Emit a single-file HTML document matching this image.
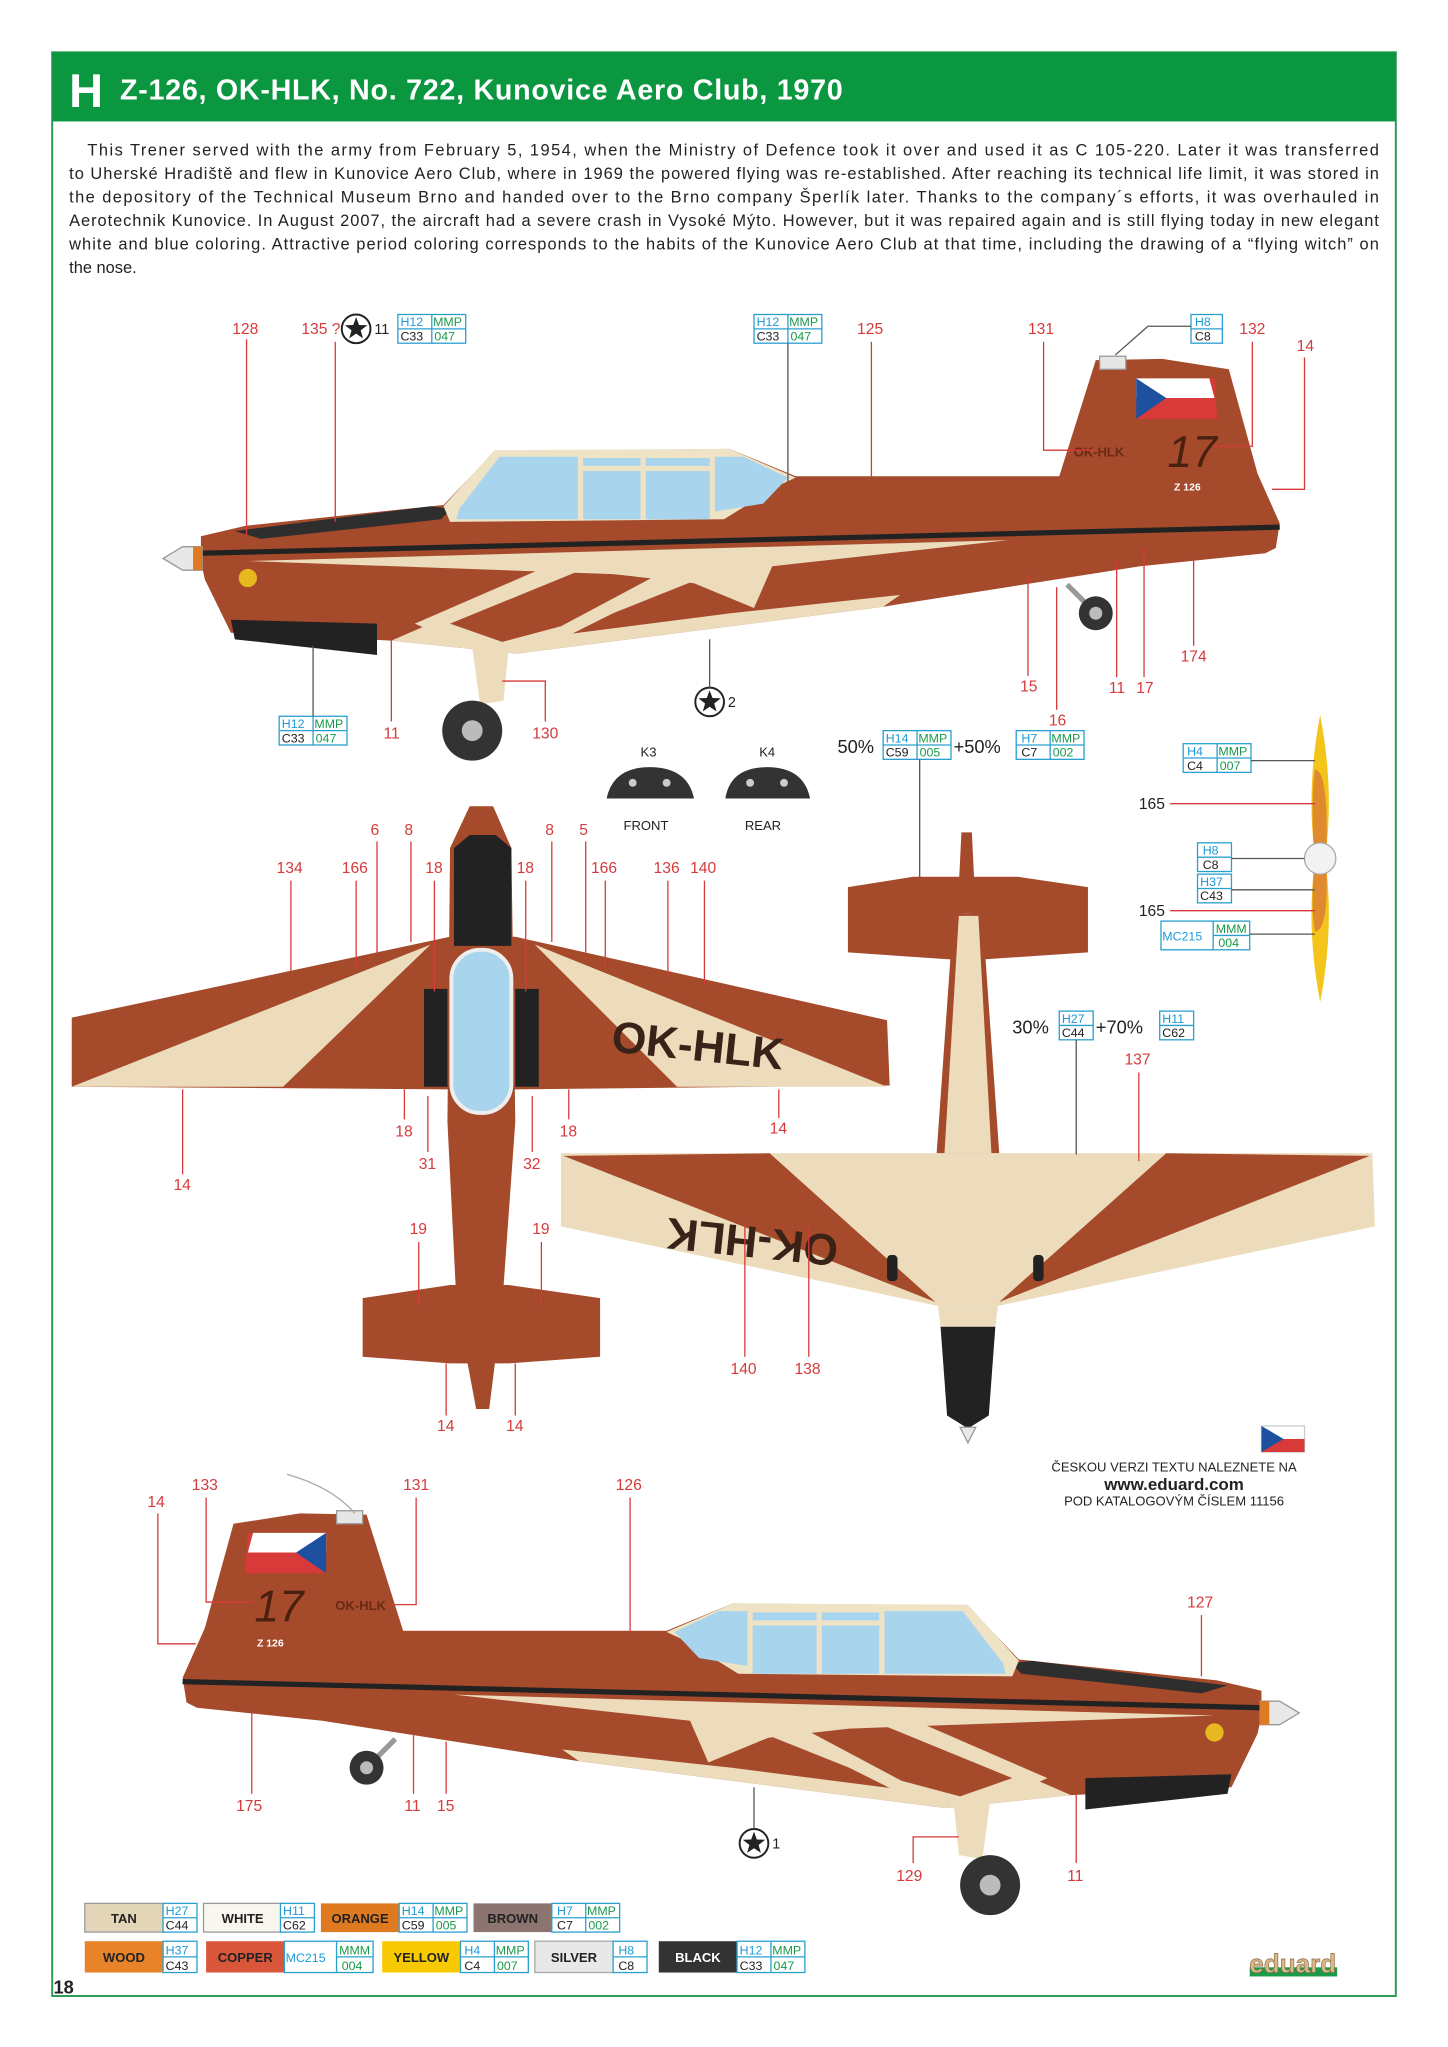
<!DOCTYPE html>
<html><head><meta charset="utf-8"><style>
html,body{margin:0;padding:0;background:#fff;}
svg{display:block;}
text{font-family:"Liberation Sans",sans-serif;}
.r{fill:#d63a3a;font-size:12px;}
.l{stroke:#d63a3a;stroke-width:1;fill:none;}
.p{font-size:12.6px;fill:#222;font-family:"Liberation Sans Narrow","Liberation Sans",sans-serif;}
.bx{fill:#fff;stroke:#29a0d0;stroke-width:1;}
.bt{font-size:9.5px;fill:#1c9ad6;}
.gt{font-size:9.5px;fill:#1a9a4a;}
.kt{font-size:9.5px;fill:#222;}
</style></head><body>
<svg width="1448" height="2047" viewBox="0 0 1110 1569" xmlns="http://www.w3.org/2000/svg">
<defs>
<g id="rnd"><circle r="11" fill="#fff" stroke="#222" stroke-width="1.5"/><polygon points="0,-9 2.2,-3 8.6,-2.8 3.5,1.2 5.3,7.3 0,3.7 -5.3,7.3 -3.5,1.2 -8.6,-2.8 -2.2,-3" fill="#222"/></g>
<g id="side">
<polygon points="154,411 188,403 340,387 379,346 559,344 610,365 812,365 840,276 891,275 942,283 964,363 981,401 978,420 970,424 874,434 677,465 396,501 300,491 177,485 157,444 154,430" fill="#a54a2b"/>
<polygon points="300,491 396,501 677,465 690,456 560,470 420,488 330,478" fill="#ecdcbc"/>
<polygon points="318,478 440,425 520,432 545,440 470,470 420,495 360,497" fill="#ecdcbc"/>
<polygon points="345,478 450,435 505,440 430,480 385,492" fill="#a54a2b"/>
<polygon points="190,430 773,414 592,434 578,466 532,447 470,440" fill="#ecdcbc"/>
<polygon points="180,407 330,388 346,390 338,398 200,413" fill="#2e2e2e"/>
<path d="M154,424 L981,404" stroke="#222" stroke-width="4"/>
<polygon points="340,388 379,345 559,344 610,366 597,372 555,398 345,400" fill="#efe3c6"/>
<polygon points="352,390 383,350 443,350 443,398 350,398" fill="#a8d4ee"/>
<rect x="447" y="351" width="44" height="6" fill="#a8d4ee"/><rect x="495" y="351" width="49" height="6" fill="#a8d4ee"/>
<rect x="447" y="361" width="44" height="37" fill="#a8d4ee"/><rect x="495" y="361" width="49" height="37" fill="#a8d4ee"/>
<polygon points="548,350 570,350 604,366 585,386 548,392" fill="#a8d4ee"/>
<polygon points="125,428 140,419 155,419 155,437 140,437" fill="#e8e8e8" stroke="#999"/>
<rect x="148" y="419" width="7" height="18" fill="#e07a20"/>
<polygon points="871,290 931,290 933,321 871,321" fill="#d83a3a"/><polygon points="871,290 927,290 931,305 871,305" fill="#fff"/><polygon points="871,290 894,305 871,321" fill="#1e50a0"/>
<rect x="843" y="273" width="20" height="10" fill="#e6e6e6" stroke="#999"/>
<polygon points="177,475 289,478 289,502 180,490" fill="#222"/>
<polygon points="362,496 390,496 386,537 368,540" fill="#ecdcbc"/>
<circle cx="362" cy="560" r="23" fill="#333"/><circle cx="362" cy="560" r="8" fill="#bbb"/>
<path d="M818,448 L838,468" stroke="#999" stroke-width="4"/>
<circle cx="840" cy="470" r="13" fill="#333"/><circle cx="840" cy="470" r="5" fill="#bbb"/>
<circle cx="190" cy="443" r="7" fill="#e8b820"/>
</g>
</defs>
<rect x="40" y="40" width="1030" height="1490" fill="none" stroke="#2a9a55" stroke-width="1.5"/>
<rect x="40" y="40" width="1030" height="53" fill="#0b9640"/>
<text x="53" y="82" font-size="36" font-weight="bold" fill="#fff">H</text>
<text x="92" y="76" font-size="22" font-weight="bold" fill="#fff" textLength="554">Z-126, OK-HLK, No. 722, Kunovice Aero Club, 1970</text>
<text class="p" x="67" y="119" textLength="990">This Trener served with the army from February 5, 1954, when the Ministry of Defence took it over and used it as C 105-220. Later it was transferred</text>
<text class="p" x="53" y="137" textLength="1004">to Uherské Hradiště and flew in Kunovice Aero Club, where in 1969 the powered flying was re-established. After reaching its technical life limit, it was stored in</text>
<text class="p" x="53" y="155" textLength="1004">the depository of the Technical Museum Brno and handed over to the Brno company Šperlík later. Thanks to the company´s efforts, it was overhauled in</text>
<text class="p" x="53" y="173" textLength="1004">Aerotechnik Kunovice. In August 2007, the aircraft had a severe crash in Vysoké Mýto. However, but it was repaired again and is still flying today in new elegant</text>
<text class="p" x="53" y="191" textLength="1004">white and blue coloring. Attractive period coloring corresponds to the habits of the Kunovice Aero Club at that time, including the drawing of a “flying witch” on</text>
<text class="p" x="53" y="209">the nose.</text>

<!-- TOP SIDE VIEW -->
<use href="#side"/>
<text x="823" y="350" font-size="10" font-weight="bold" fill="#6a2a15">OK-HLK</text>
<text x="895" y="358" font-size="34" font-style="italic" fill="#4a2010">17</text>
<text x="900" y="376" font-size="8" fill="#fff" font-weight="bold">Z 126</text>
<!-- labels top -->
<text class="r" x="178" y="256">128</text><path class="l" d="M189,260 V410"/>
<text class="r" x="231" y="256">135 ?</text><path class="l" d="M257,262 V400"/>
<use href="#rnd" x="273" y="252"/><text x="287" y="256" font-size="11" fill="#222">11</text>
<g transform="translate(305,241)"><rect class="bx" width="52" height="22"/><path d="M0,11H52M26,0V22" stroke="#29a0d0"/><text class="bt" x="2" y="9">H12</text><text class="gt" x="27" y="9">MMP</text><text class="kt" x="2" y="20">C33</text><text class="gt" x="28" y="20">047</text></g>
<g transform="translate(578,241)"><rect class="bx" width="52" height="22"/><path d="M0,11H52M26,0V22" stroke="#29a0d0"/><text class="bt" x="2" y="9">H12</text><text class="gt" x="27" y="9">MMP</text><text class="kt" x="2" y="20">C33</text><text class="gt" x="28" y="20">047</text></g>
<path d="M604,263 V370" stroke="#555" fill="none"/>
<text class="r" x="657" y="256">125</text><path class="l" d="M668,262 V366"/>
<text class="r" x="788" y="256">131</text><path class="l" d="M800,262 V345 H840"/>
<g transform="translate(913,241)"><rect class="bx" width="24" height="22"/><path d="M0,11H24" stroke="#29a0d0"/><text class="bt" x="3" y="9">H8</text><text class="kt" x="3" y="20">C8</text></g>
<path d="M913,250 H880 L855,272" stroke="#555" fill="none"/>
<text class="r" x="950" y="256">132</text><path class="l" d="M960,262 V342 H930"/>
<text class="r" x="994" y="269">14</text><path class="l" d="M1000,274 V375 H975"/>
<g transform="translate(214,549)"><rect class="bx" width="52" height="22"/><path d="M0,11H52M26,0V22" stroke="#29a0d0"/><text class="bt" x="2" y="9">H12</text><text class="gt" x="27" y="9">MMP</text><text class="kt" x="2" y="20">C33</text><text class="gt" x="28" y="20">047</text></g>
<path d="M240,495 V549" stroke="#555" fill="none"/>
<text class="r" x="294" y="566">11</text><path class="l" d="M300,488 V553"/>
<text class="r" x="408" y="566">130</text><path class="l" d="M418,553 V522 H385"/>
<use href="#rnd" x="544" y="538"/><text x="558" y="542" font-size="11" fill="#222">2</text><path d="M544,527 V490" stroke="#555"/>
<text class="r" x="782" y="530">15</text><path class="l" d="M788,518 V440"/>
<text class="r" x="804" y="556">16</text><path class="l" d="M810,544 V450"/>
<text class="r" x="850" y="531">11</text><path class="l" d="M856,519 V430"/>
<text class="r" x="871" y="531">17</text><path class="l" d="M877,519 V420"/>
<text class="r" x="905" y="507">174</text><path class="l" d="M915,495 V428"/>
<text x="642" y="577" font-size="14" fill="#222">50%</text>
<g transform="translate(677,560)"><rect class="bx" width="52" height="22"/><path d="M0,11H52M26,0V22" stroke="#29a0d0"/><text class="bt" x="2" y="9">H14</text><text class="gt" x="27" y="9">MMP</text><text class="kt" x="2" y="20">C59</text><text class="gt" x="28" y="20">005</text></g>
<text x="731" y="577" font-size="14" fill="#222">+50%</text>
<g transform="translate(779,560)"><rect class="bx" width="52" height="22"/><path d="M0,11H52M26,0V22" stroke="#29a0d0"/><text class="bt" x="4" y="9">H7</text><text class="gt" x="27" y="9">MMP</text><text class="kt" x="4" y="20">C7</text><text class="gt" x="28" y="20">002</text></g>
<path d="M705,582 V690" stroke="#555"/>
<!-- instrument panels -->
<text x="491" y="580" font-size="10" fill="#222">K3</text><text x="582" y="580" font-size="10" fill="#222">K4</text>
<path d="M465,612 Q470,588 498,588 Q527,588 532,612 Z" fill="#333"/><path d="M556,612 Q560,588 588,588 Q616,588 621,612 Z" fill="#333"/>
<circle cx="485" cy="600" r="3" fill="#ccc"/><circle cx="511" cy="600" r="3" fill="#ccc"/><circle cx="575" cy="600" r="3" fill="#ccc"/><circle cx="601" cy="600" r="3" fill="#ccc"/>
<text x="478" y="636" font-size="10" fill="#222">FRONT</text><text x="571" y="636" font-size="10" fill="#222">REAR</text>

<!-- TOP VIEW -->
<g>
<polygon points="55,780 345,718 395,718 680,782 682,832 395,835 345,835 55,833" fill="#a54a2b"/>
<polygon points="330,724 55,833 217,833" fill="#ecdcbc"/>
<polygon points="410,724 680,833 519,833" fill="#ecdcbc"/>
<polygon points="278,995 345,985 390,985 460,995 460,1040 390,1045 345,1045 278,1040" fill="#a54a2b"/>
<polygon points="345,650 360,618 378,618 392,650 395,860 385,1000 375,1080 365,1080 350,1000 343,860" fill="#a54a2b"/>
<polygon points="348,650 360,640 380,640 392,650 392,725 348,725" fill="#222"/>
<rect x="325" y="758" width="18" height="75" fill="#222"/><rect x="395" y="758" width="18" height="75" fill="#222"/>
<rect x="346" y="728" width="46" height="125" rx="22" fill="#a8d4ee" stroke="#eee" stroke-width="3"/>
<text x="468" y="806" font-size="34" font-weight="bold" fill="#3a2218" transform="rotate(6 468 806)">OK-HLK</text>
</g>
<!-- BOTTOM VIEW -->
<g>
<polygon points="650,680 700,672 738,672 738,736 650,730" fill="#a54a2b"/>
<polygon points="744,672 780,672 834,680 834,730 744,736" fill="#a54a2b"/>
<polygon points="737,638 745,638 748,700 734,700" fill="#a54a2b"/>
<polygon points="731,700 753,700 766,884 718,884" fill="#a54a2b"/>
<polygon points="735,702 750,702 760,884 724,884" fill="#ecdcbc"/>
<polygon points="430,884 1052,884 1054,940 765,1001 719,1001 430,940" fill="#ecdcbc"/>
<polygon points="432,886 590,884 717,998" fill="#a54a2b"/>
<polygon points="894,884 1050,886 766,998" fill="#a54a2b"/>
<polygon points="719,1001 765,1001 763,1017 721,1017" fill="#ecdcbc"/>
<polygon points="721,1017 763,1017 758,1085 742,1095 726,1085" fill="#222"/>
<polygon points="736,1094 748,1094 742,1106" fill="#e8e8e8" stroke="#999"/>
<rect x="680" y="962" width="8" height="20" rx="3" fill="#222"/><rect x="792" y="962" width="8" height="20" rx="3" fill="#222"/>
<text x="505" y="920" font-size="34" font-weight="bold" fill="#3a2218" transform="rotate(186 575 930)">OK-HLK</text>
</g>
<text x="776" y="792" font-size="14" fill="#222">30%</text>
<g transform="translate(812,775)"><rect class="bx" width="26" height="22"/><path d="M0,11H26" stroke="#29a0d0"/><text class="bt" x="2" y="9">H27</text><text class="kt" x="2" y="20">C44</text></g>
<text x="840" y="792" font-size="14" fill="#222">+70%</text>
<g transform="translate(889,775)"><rect class="bx" width="26" height="22"/><path d="M0,11H26" stroke="#29a0d0"/><text class="bt" x="2" y="9">H11</text><text class="kt" x="2" y="20">C62</text></g>
<path d="M825,797 V885" stroke="#555"/>
<text class="r" x="862" y="816">137</text><path class="l" d="M873,822 V890"/>
<!-- propeller -->
<path d="M1012,548 Q1022,600 1017,648 L1007,648 Q1002,600 1012,548Z" fill="#f3c51a"/>
<path d="M1012,768 Q1022,716 1017,668 L1007,668 Q1002,716 1012,768Z" fill="#f3c51a"/>
<path d="M1008,590 Q1018,590 1017,648 L1007,648 Q1005,610 1008,590Z" fill="#e08a30"/>
<path d="M1008,714 Q1018,714 1017,668 L1007,668 Q1005,700 1008,714Z" fill="#e08a30"/>
<circle cx="1012" cy="658" r="12" fill="#f2f2f2" stroke="#aaa"/>
<text x="873" y="620" font-size="12" fill="#222">165</text><path d="M897,616 H1008" stroke="#d63a3a"/>
<text x="873" y="702" font-size="12" fill="#222">165</text><path d="M897,698 H1008" stroke="#d63a3a"/>
<g transform="translate(907,570)"><rect class="bx" width="52" height="22"/><path d="M0,11H52M26,0V22" stroke="#29a0d0"/><text class="bt" x="3" y="9">H4</text><text class="gt" x="27" y="9">MMP</text><text class="kt" x="3" y="20">C4</text><text class="gt" x="28" y="20">007</text></g>
<path d="M959,583 H1008" stroke="#555"/>
<g transform="translate(918,646)"><rect class="bx" width="26" height="22"/><path d="M0,11H26" stroke="#29a0d0"/><text class="bt" x="4" y="9">H8</text><text class="kt" x="4" y="20">C8</text></g>
<g transform="translate(918,670)"><rect class="bx" width="26" height="22"/><path d="M0,11H26" stroke="#29a0d0"/><text class="bt" x="2" y="9">H37</text><text class="kt" x="2" y="20">C43</text></g>
<path d="M944,658 H1000 M944,682 H1008" stroke="#555"/>
<g transform="translate(890,706)"><rect class="bx" width="68" height="22"/><path d="M40,11H68M40,0V22" stroke="#29a0d0"/><text class="bt" x="1" y="15">MC215</text><text class="gt" x="42" y="9">MMM</text><text class="gt" x="44" y="20">004</text></g>
<path d="M958,716 H1008" stroke="#555"/>
<!-- mid labels -->
<text class="r" x="284" y="640">6</text><path class="l" d="M289,645 V730"/>
<text class="r" x="310" y="640">8</text><path class="l" d="M315,645 V722"/>
<text class="r" x="418" y="640">8</text><path class="l" d="M423,645 V722"/>
<text class="r" x="444" y="640">5</text><path class="l" d="M449,645 V730"/>
<text class="r" x="212" y="669">134</text><path class="l" d="M223,675 V745"/>
<text class="r" x="262" y="669">166</text><path class="l" d="M273,675 V742"/>
<text class="r" x="326" y="669">18</text><path class="l" d="M333,675 V760"/>
<text class="r" x="396" y="669">18</text><path class="l" d="M403,675 V760"/>
<text class="r" x="453" y="669">166</text><path class="l" d="M464,675 V742"/>
<text class="r" x="501" y="669">136</text><path class="l" d="M512,675 V750"/>
<text class="r" x="529" y="669">140</text><path class="l" d="M540,675 V755"/>
<text class="r" x="303" y="871">18</text><path class="l" d="M310,858 V835"/>
<text class="r" x="321" y="896">31</text><path class="l" d="M328,883 V840"/>
<text class="r" x="429" y="871">18</text><path class="l" d="M436,858 V835"/>
<text class="r" x="401" y="896">32</text><path class="l" d="M408,883 V840"/>
<text class="r" x="590" y="869">14</text><path class="l" d="M597,857 V835"/>
<text class="r" x="133" y="912">14</text><path class="l" d="M140,900 V835"/>
<text class="r" x="314" y="946">19</text><path class="l" d="M321,952 V1000"/>
<text class="r" x="408" y="946">19</text><path class="l" d="M415,952 V1000"/>
<text class="r" x="335" y="1097">14</text><path class="l" d="M342,1085 V1045"/>
<text class="r" x="388" y="1097">14</text><path class="l" d="M395,1085 V1045"/>
<text class="r" x="560" y="1053">140</text><path class="l" d="M571,1040 V940"/>
<text class="r" x="609" y="1053">138</text><path class="l" d="M620,1040 V940"/>
<!-- czech note -->
<rect x="967" y="1093" width="33" height="20" fill="#fff" stroke="#ccc"/><rect x="967" y="1103" width="33" height="10" fill="#d83a3a"/><polygon points="967,1093 984,1103 967,1113" fill="#1e50a0"/>
<text x="900" y="1128" font-size="10" fill="#222" text-anchor="middle">ČESKOU VERZI TEXTU NALEZNETE NA</text>
<text x="900" y="1142" font-size="13" font-weight="bold" fill="#222" text-anchor="middle">www.eduard.com</text>
<text x="900" y="1154" font-size="10" fill="#222" text-anchor="middle">POD KATALOGOVÝM ČÍSLEM 11156</text>

<!-- BOTTOM SIDE VIEW -->
<use href="#side" transform="translate(1121,885) scale(-1,1)"/>
<path d="M220,1130 Q255,1140 272,1160" stroke="#aaa" fill="none"/>
<text x="195" y="1243" font-size="34" font-style="italic" fill="#4a2010">17</text>
<text x="257" y="1234" font-size="10" font-weight="bold" fill="#6a2a15">OK-HLK</text>
<text x="197" y="1262" font-size="8" fill="#fff" font-weight="bold">Z 126</text>
<text class="r" x="113" y="1155">14</text><path class="l" d="M121,1160 V1260 H150"/>
<text class="r" x="147" y="1142">133</text><path class="l" d="M158,1148 V1228 H195"/>
<text class="r" x="309" y="1142">131</text><path class="l" d="M319,1148 V1230 H300"/>
<text class="r" x="472" y="1142">126</text><path class="l" d="M483,1148 V1252"/>
<text class="r" x="910" y="1232">127</text><path class="l" d="M921,1238 V1285"/>
<text class="r" x="181" y="1388">175</text><path class="l" d="M193,1375 V1310"/>
<text class="r" x="310" y="1388">11</text><path class="l" d="M317,1375 V1330"/>
<text class="r" x="335" y="1388">15</text><path class="l" d="M342,1375 V1335"/>
<use href="#rnd" x="578" y="1413"/><text x="592" y="1417" font-size="11" fill="#222">1</text><path d="M578,1402 V1370" stroke="#555"/>
<text class="r" x="687" y="1442">129</text><path class="l" d="M700,1428 V1408 H735"/>
<text class="r" x="818" y="1442">11</text><path class="l" d="M825,1428 V1375"/>

<!-- LEGEND -->
<g font-size="10" font-weight="bold">
<rect x="65" y="1459" width="60" height="22" fill="#e3d6b8" stroke="#999"/><text x="95" y="1474" text-anchor="middle" fill="#222">TAN</text>
<g transform="translate(125,1459)"><rect class="bx" width="26" height="22"/><path d="M0,11H26" stroke="#29a0d0"/><text class="bt" x="2" y="9" font-weight="normal">H27</text><text class="kt" x="2" y="20" font-weight="normal">C44</text></g>
<rect x="156" y="1459" width="60" height="22" fill="#f8f6ef" stroke="#999"/><text x="186" y="1474" text-anchor="middle" fill="#222">WHITE</text>
<g transform="translate(215,1459)"><rect class="bx" width="26" height="22"/><path d="M0,11H26" stroke="#29a0d0"/><text class="bt" x="2" y="9" font-weight="normal">H11</text><text class="kt" x="2" y="20" font-weight="normal">C62</text></g>
<rect x="246" y="1459" width="60" height="22" fill="#e07a20"/><text x="276" y="1474" text-anchor="middle" fill="#222">ORANGE</text>
<g transform="translate(306,1459)"><rect class="bx" width="52" height="22"/><path d="M0,11H52M26,0V22" stroke="#29a0d0"/><text class="bt" x="2" y="9" font-weight="normal">H14</text><text class="gt" x="27" y="9" font-weight="normal">MMP</text><text class="kt" x="2" y="20" font-weight="normal">C59</text><text class="gt" x="28" y="20" font-weight="normal">005</text></g>
<rect x="363" y="1459" width="60" height="22" fill="#8c7470"/><text x="393" y="1474" text-anchor="middle" fill="#222">BROWN</text>
<g transform="translate(423,1459)"><rect class="bx" width="52" height="22"/><path d="M0,11H52M26,0V22" stroke="#29a0d0"/><text class="bt" x="4" y="9" font-weight="normal">H7</text><text class="gt" x="27" y="9" font-weight="normal">MMP</text><text class="kt" x="4" y="20" font-weight="normal">C7</text><text class="gt" x="28" y="20" font-weight="normal">002</text></g>

<rect x="65" y="1488" width="60" height="24" fill="#e8832a"/><text x="95" y="1504" text-anchor="middle" fill="#222">WOOD</text>
<g transform="translate(125,1488)"><rect class="bx" width="26" height="24"/><path d="M0,12H26" stroke="#29a0d0"/><text class="bt" x="2" y="10" font-weight="normal">H37</text><text class="kt" x="2" y="22" font-weight="normal">C43</text></g>
<rect x="158" y="1488" width="60" height="24" fill="#d9563a"/><text x="188" y="1504" text-anchor="middle" fill="#222">COPPER</text>
<g transform="translate(218,1488)"><rect class="bx" width="68" height="24"/><path d="M40,12H68M40,0V24" stroke="#29a0d0"/><text class="bt" x="1" y="16" font-weight="normal">MC215</text><text class="gt" x="42" y="10" font-weight="normal">MMM</text><text class="gt" x="44" y="22" font-weight="normal">004</text></g>
<rect x="293" y="1488" width="60" height="24" fill="#f8c800"/><text x="323" y="1504" text-anchor="middle" fill="#222">YELLOW</text>
<g transform="translate(353,1488)"><rect class="bx" width="52" height="24"/><path d="M0,12H52M26,0V24" stroke="#29a0d0"/><text class="bt" x="3" y="10" font-weight="normal">H4</text><text class="gt" x="27" y="10" font-weight="normal">MMP</text><text class="kt" x="3" y="22" font-weight="normal">C4</text><text class="gt" x="28" y="22" font-weight="normal">007</text></g>
<rect x="410" y="1488" width="60" height="24" fill="#e8e8e8" stroke="#aaa"/><text x="440" y="1504" text-anchor="middle" fill="#222">SILVER</text>
<g transform="translate(470,1488)"><rect class="bx" width="26" height="24"/><path d="M0,12H26" stroke="#29a0d0"/><text class="bt" x="4" y="10" font-weight="normal">H8</text><text class="kt" x="4" y="22" font-weight="normal">C8</text></g>
<rect x="505" y="1488" width="60" height="24" fill="#333"/><text x="535" y="1504" text-anchor="middle" fill="#fff">BLACK</text>
<g transform="translate(565,1488)"><rect class="bx" width="52" height="24"/><path d="M0,12H52M26,0V24" stroke="#29a0d0"/><text class="bt" x="2" y="10" font-weight="normal">H12</text><text class="gt" x="27" y="10" font-weight="normal">MMP</text><text class="kt" x="2" y="22" font-weight="normal">C33</text><text class="gt" x="28" y="22" font-weight="normal">047</text></g>
</g>
<text x="41" y="1528" font-size="14" font-weight="bold" fill="#222">18</text>
<rect x="958" y="1508" width="67" height="7" fill="#1a9a4a"/>
<text x="991" y="1512" font-size="20" font-weight="bold" fill="#d8b888" stroke="#8a6a40" stroke-width="0.5" text-anchor="middle">eduard</text>
</svg>
</body></html>
